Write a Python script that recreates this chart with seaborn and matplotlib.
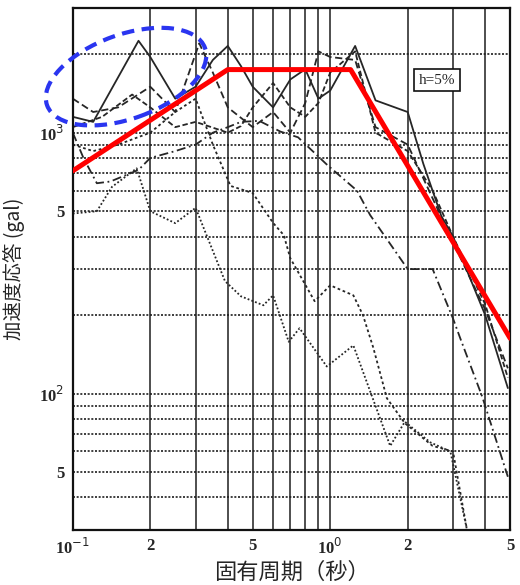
import matplotlib

matplotlib.use("Agg")
import matplotlib.pyplot as plt
import matplotlib.transforms as mtransforms
import numpy as np
import pandas as pd
import seaborn as sns
from matplotlib.patches import Ellipse
from matplotlib.ticker import FixedLocator, NullFormatter, LogLocator

# --- spectra (period s, acceleration gal) ---
a_period = [0.1, 0.12, 0.18, 0.2, 0.25, 0.3, 0.35, 0.4, 0.45, 0.5, 0.6, 0.7, 0.8, 0.9, 1.0, 1.25, 1.5, 2.0, 2.3, 2.7, 3.0, 4.0, 4.9]
a_accel = [1150, 1100, 2250, 1950, 1350, 1500, 1900, 2150, 1800, 1500, 1250, 1600, 1750, 1350, 1450, 2150, 1330, 1200, 760, 480, 400, 200, 105]

b_period = [0.1, 0.12, 0.15, 0.2, 0.25, 0.31, 0.35, 0.4, 0.5, 0.6, 0.7, 0.8, 0.9, 1.0, 1.25, 1.5, 2.0, 2.5, 3.0, 4.0, 4.9]
b_accel = [1350, 1200, 1250, 1500, 1200, 2200, 1700, 1250, 1050, 1200, 1000, 1300, 2050, 1950, 1900, 1050, 900, 560, 380, 210, 125]

c_period = [0.1, 0.11, 0.124, 0.14, 0.18, 0.2, 0.25, 0.3, 0.35, 0.4, 0.45, 0.53, 0.64, 0.75, 0.97, 1.27, 1.43, 2.0, 2.5, 3.0, 3.2, 3.9, 4.9]
c_accel = [1000, 800, 640, 650, 720, 800, 850, 900, 1000, 1050, 1100, 1110, 1010, 960, 755, 600, 483, 300, 300, 194, 163, 97, 48]

d_period = [0.1, 0.12, 0.15, 0.2, 0.25, 0.3, 0.35, 0.41, 0.5, 0.6, 0.66, 0.7, 0.87, 1.0, 1.23, 1.34, 1.47, 1.66, 1.95, 2.5, 3.0, 3.4]
d_accel = [900, 850, 900, 1000, 1200, 1350, 900, 625, 587, 451, 405, 330, 226, 260, 238, 200, 150, 96, 77, 63, 60, 30]

e_period = [0.1, 0.124, 0.142, 0.177, 0.2, 0.25, 0.3, 0.39, 0.45, 0.55, 0.6, 0.69, 0.76, 0.97, 1.23, 1.71, 1.95, 2.45, 2.93, 3.4]
e_accel = [490, 500, 620, 730, 500, 450, 515, 270, 236, 218, 238, 158, 178, 127, 153, 63, 78, 65, 60, 30]

f_period = [0.1, 0.13, 0.17, 0.2, 0.25, 0.3, 0.4, 0.45, 0.5, 0.6, 0.7, 0.8, 0.9, 1.0, 1.25, 1.5, 2.0, 2.5, 3.0, 4.0, 4.9]
f_accel = [1050, 1150, 1400, 1250, 1050, 1100, 1000, 1060, 1250, 1550, 1250, 1150, 1300, 1700, 2050, 1000, 850, 600, 400, 220, 115]

# design spectrum (red) and highlighted region (blue ellipse)
design_period = [0.1, 0.4, 1.2, 5.0]
design_accel = [714, 1745, 1745, 163]
ellipse_center = (0.161, 1640)

x_tick_vals = [0.1, 0.2, 0.5, 1.0, 2.0, 5.0]
x_tick_labels = ["10$^{-1}$", "2", "5", "10$^{0}$", "2", "5"]
y_tick_vals = [50, 100, 500, 1000]
y_tick_labels = ["5", "10$^{2}$", "5", "10$^{3}$"]

curves = [
    ("A", a_period, a_accel, "-"),
    ("B", b_period, b_accel, (0, (4, 2))),
    ("C", c_period, c_accel, (0, (5, 2, 1, 2))),
    ("D", d_period, d_accel, (0, (1.5, 1.5))),
    ("E", e_period, e_accel, (0, (1, 1.2))),
    ("F", f_period, f_accel, (0, (3, 1.5))),
]

sns.set_style("white")
plt.rcParams["font.family"] = ["Liberation Serif", "DejaVu Sans"]

fig = plt.figure(figsize=(5.2, 5.85), dpi=100)
ax = fig.add_axes([0.140, 0.094, 0.841, 0.892])
ax.set_xscale("log")
ax.set_yscale("log")

for name, per, acc, ls in curves:
    df = pd.DataFrame({"period": per, "accel": acc})
    sns.lineplot(data=df, x="period", y="accel", ax=ax, color="#262626",
                 linewidth=1.3, linestyle=ls, sort=False, estimator=None)

sns.lineplot(x=design_period, y=design_accel, ax=ax, color="#ff0000",
             linewidth=3.6, sort=False, estimator=None, zorder=5)

ax.set_xlim(0.1, 5.0)
ax.set_ylim(30, 3000)

# log grid: solid verticals, dotted horizontals
ax.xaxis.set_major_locator(FixedLocator(x_tick_vals))
ax.xaxis.set_minor_locator(LogLocator(base=10, subs=np.arange(1, 10)))
ax.yaxis.set_major_locator(FixedLocator(y_tick_vals))
ax.yaxis.set_minor_locator(LogLocator(base=10, subs=np.arange(1, 10)))
ax.xaxis.set_minor_formatter(NullFormatter())
ax.yaxis.set_minor_formatter(NullFormatter())
ax.grid(which="both", axis="x", color="#1e1e1e", linestyle="-", linewidth=1.1)
ax.grid(which="both", axis="y", color="#1e1e1e", linestyle=(0, (1.2, 1.0)), linewidth=1.2)
ax.set_axisbelow(True)

ax.set_xticklabels(x_tick_labels, fontsize=12, fontweight="bold")
ax.set_yticklabels(y_tick_labels, fontsize=12, fontweight="bold")
ax.tick_params(which="both", length=0, pad=6)
for s in ax.spines.values():
    s.set_color("#111111")
    s.set_linewidth(1.6)

ax.set_xlabel("固有周期（秒）", fontsize=16,
              family=["Noto Sans CJK JP", "DejaVu Sans"], labelpad=2)
ax.set_ylabel("加速度応答 (gal)", fontsize=14,
              family=["Noto Sans CJK JP", "DejaVu Sans"], labelpad=10)

ax.text(0.833, 0.862, "h=5%", transform=ax.transAxes, fontsize=11,
        ha="center", va="center",
        bbox=dict(boxstyle="square,pad=0.3", facecolor="white", edgecolor="#111111", linewidth=1.2))

ell_trans = fig.dpi_scale_trans + mtransforms.ScaledTranslation(
    ellipse_center[0], ellipse_center[1], ax.transData)
ell = Ellipse((0, 0), 1.68, 0.84, angle=20, transform=ell_trans, fill=False,
              edgecolor="#2a35f0", linewidth=3.0, linestyle=(0, (3, 1.8)),
              clip_on=False, zorder=6)
ax.add_patch(ell)

fig.savefig("out.png", dpi=100)
